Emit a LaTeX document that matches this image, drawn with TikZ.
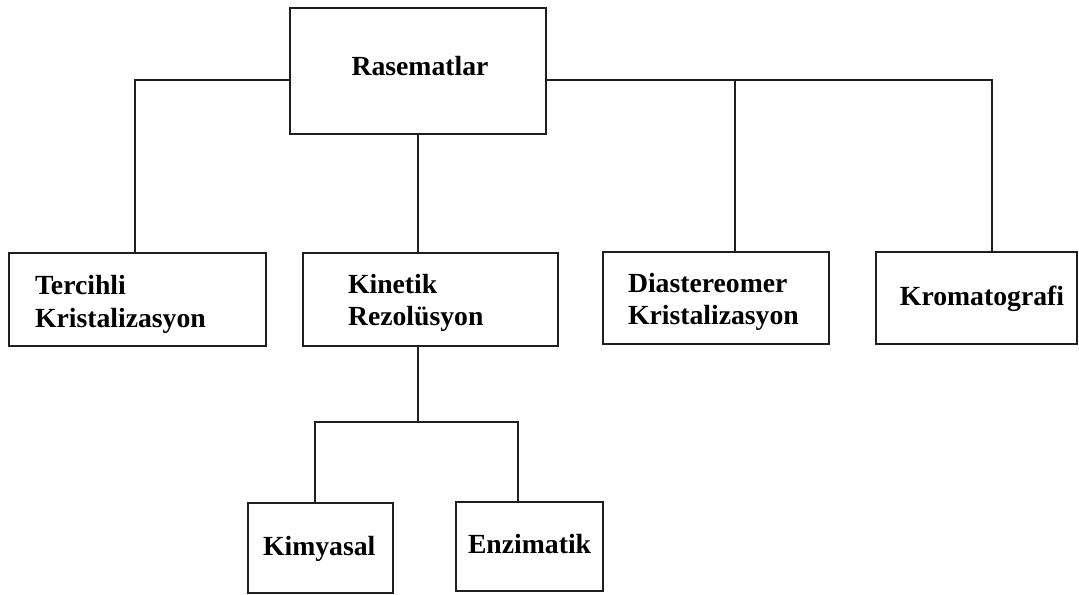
\documentclass[tikz,border=0pt]{standalone}
\usepackage{fontspec}
\setmainfont{Liberation Serif}
\begin{document}
\begin{tikzpicture}[x=0.5pt,y=-0.5pt,
  box/.style={draw=black!88,line width=1pt,inner sep=0,outer sep=0},
  lbl/.style={inner sep=0,outer sep=0,anchor=base west,font=\fontsize{13.85}{16}\selectfont\bfseries},
  link/.style={draw=black!88,line width=1pt}]
\useasboundingbox (0,0) rectangle (1079,594);
% boxes
\node[box,minimum width=128pt,minimum height=63pt] (R) at (418,71) {};
\node[box,minimum width=128.5pt,minimum height=46.5pt] (T) at (137.5,299.5) {};
\node[box,minimum width=127.5pt,minimum height=46.5pt] (K) at (430.5,299.5) {};
\node[box,minimum width=113pt,minimum height=46pt] (D) at (716,298) {};
\node[box,minimum width=100.5pt,minimum height=46pt] (Kr) at (976.5,298) {};
\node[box,minimum width=72.5pt,minimum height=45pt] (Ki) at (320.5,548) {};
\node[box,minimum width=73.5pt,minimum height=44.5pt] (E) at (529.5,546.5) {};
% texts
\node[lbl,anchor=center] (tR) at (420,66) {Rasematlar};
\node[lbl] (tT1) at (35,294) {Tercihli};
\node[lbl] (tT2) at (35,327) {Kristalizasyon};
\node[lbl] (tK1) at (348,293) {Kinetik};
\node[lbl] (tK2) at (348,325) {Rezolüsyon};
\node[lbl] (tD1) at (628,292) {Diastereomer};
\node[lbl] (tD2) at (628,324) {Kristalizasyon};
\node[lbl,anchor=base] (tKr) at (982,305) {Kromatografi};
\node[lbl] (tKi) at (263,555) {Kimyasal};
\node[lbl] (tE) at (468,553) {Enzimatik};
% connector coordinates
\coordinate (h) at (0,80);
\coordinate (xT) at (135,0);
\coordinate (xD) at (735,0);
\coordinate (xKr) at (992,0);
\coordinate (xK) at (418,0);
\coordinate (hb) at (0,422);
\coordinate (xKi) at (315,0);
\coordinate (xE) at (518,0);
% connectors
\draw[link] (R.west |- h) -| (T.north -| xT);
\draw[link] (R.east |- h) -| (Kr.north -| xKr);
\draw[link] (D.north -| xD) -- (xD |- h);
\draw[link] (R.south) -- (K.north -| xK);
\draw[link] (K.south -| xK) -- (xK |- hb);
\draw[link] (Ki.north -| xKi) -- (xKi |- hb) -- (xE |- hb) -- (E.north -| xE);
\end{tikzpicture}
\end{document}
